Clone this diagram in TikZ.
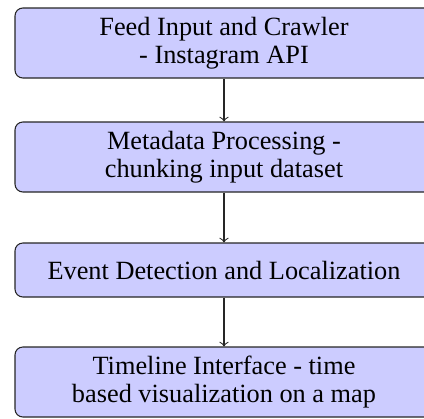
\documentclass[tikz,border=0pt]{standalone}
\usepackage{fontspec}
\setmainfont{Liberation Serif}
\begin{document}
\begin{tikzpicture}[x=0.38pt,y=-0.38pt,
  stagebox/.style={draw=black!85, fill=blue!20, rounded corners=3pt,
    align=center, inner sep=0pt, minimum width=418*0.38pt,
    font=\fontsize{10}{10.6}\selectfont},
  tall/.style={minimum height=70*0.38pt},
  short/.style={minimum height=54*0.38pt},
  flow/.style={->, draw=black!85}]
  \useasboundingbox (0,0) rectangle (424,418);
  \clip (0,0) rectangle (424,418);
  \node[stagebox, tall]  (feed)  at (224,43)  {Feed Input and Crawler\\- Instagram API};
  \node[stagebox, tall]  (meta)  at (224,157) {Metadata Processing -\\chunking input dataset};
  \node[stagebox, short] (event) at (224,270) {Event Detection and Localization};
  \node[stagebox, tall]  (time)  at (224,382) {Timeline Interface - time\\based visualization on a map};
  \draw[flow] (feed) -- (meta);
  \draw[flow] (meta) -- (event);
  \draw[flow] (event) -- (time);
\end{tikzpicture}
\end{document}
